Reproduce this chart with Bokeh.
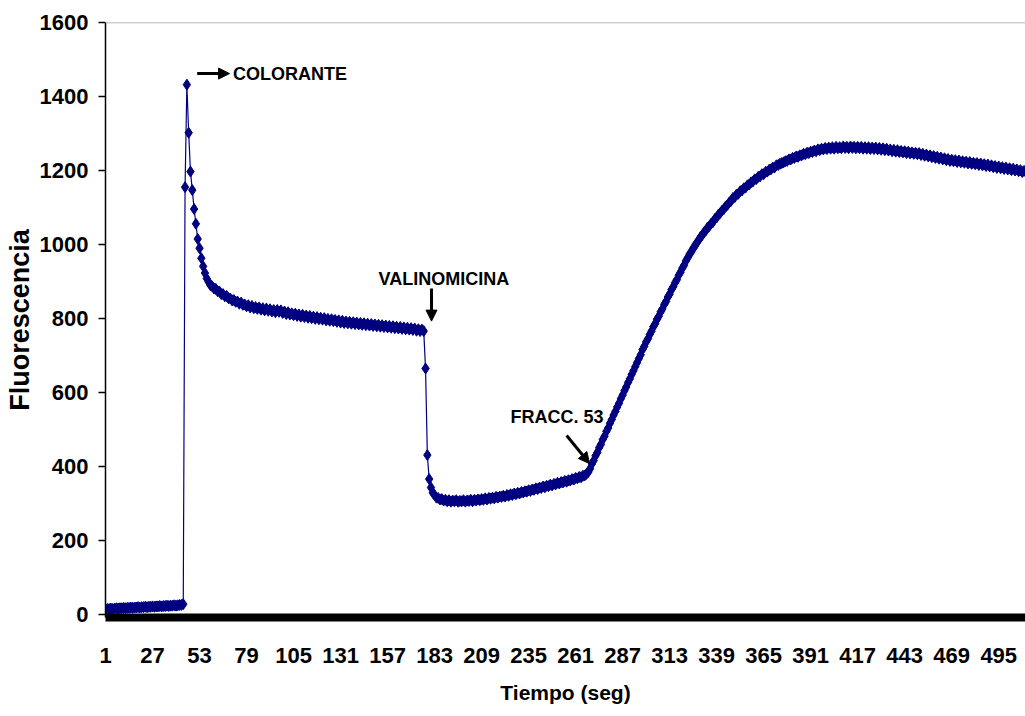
from bokeh.plotting import figure
from bokeh.models import Range1d, FixedTicker, Span, Arrow, NormalHead, Label
from bokeh.embed import file_html
from bokeh.resources import INLINE

# Fluorescence trace, one reading per second
baseline = [
    14, 15, 15, 16, 15, 16, 17, 16, 17, 17,
    18, 17, 18, 18, 19, 18, 19, 19, 20, 19,
    20, 20, 21, 20, 21, 21, 22, 21, 22, 22,
    23, 22, 23, 23, 24, 23, 24, 24, 25, 24,
    25, 26, 26, 28,
]
colorante = [
    1155, 1432, 1302, 1197, 1147, 1096, 1056, 1015, 990, 963,
    941, 923, 908, 899, 890, 887, 881, 880, 874, 873,
    866, 866, 860, 861, 855, 854, 849, 850, 845, 846,
    840, 843, 837, 838, 833, 836, 830, 834, 828, 831,
    826, 830, 824, 828, 822, 827, 821, 825, 819, 823,
    817, 823, 818, 822, 815, 819, 812, 817, 811, 814,
    809, 813, 807, 811, 805, 810, 804, 808, 802, 807,
    801, 805, 799, 804, 798, 802, 797, 801, 795, 799,
    794, 798, 793, 796, 791, 795, 789, 794, 788, 792,
    787, 791, 786, 790, 785, 789, 784, 788, 783, 787,
    782, 786, 781, 785, 780, 784, 779, 783, 778, 782,
    777, 781, 776, 780, 775, 779, 774, 778, 773, 777,
    772, 776, 771, 775, 770, 774, 769, 773, 767, 771,
    766, 770, 766,
]
valinomicina = [
    665, 431, 366, 343, 329, 323, 316, 315, 311, 312,
    308, 310, 306, 309, 305, 308, 306, 309, 305, 307,
    306, 309, 305, 308, 307, 310, 306, 310, 308, 311,
    309, 312, 310, 314, 311, 315, 313, 316, 314, 318,
    316, 319, 318, 321, 319, 323, 321, 325, 323, 327,
    325, 329, 327, 331, 330, 333, 332, 336, 334, 338,
    337, 341, 339, 343, 342, 346, 344, 348, 347, 351,
    349, 353, 352, 356, 354, 358, 357, 361, 359, 363,
    362, 366, 365, 369, 368, 372, 371, 375, 376, 380,
]
fraccion = [
    385, 394, 407, 416, 429, 438, 451, 460, 473, 482,
    495, 504, 517, 527, 539, 549, 561, 571, 583, 593,
    605, 615, 627, 637, 649, 659, 670, 681, 692, 702,
    716, 725, 737, 745, 757, 766, 778, 786, 798, 806,
    818, 826, 838, 846, 858, 866, 878, 886, 897, 905,
    917, 925, 936, 944, 956, 964, 974, 980, 990, 996,
    1005, 1011, 1020, 1025, 1033, 1038, 1046, 1050, 1057, 1061,
    1069, 1073, 1081, 1085, 1092, 1096, 1103, 1107, 1114, 1118,
    1126, 1128, 1135, 1137, 1144, 1146, 1152, 1154, 1160, 1162,
    1168, 1170, 1176, 1177, 1183, 1184, 1190, 1190, 1196, 1197,
    1202, 1203, 1208, 1208, 1214, 1215, 1218, 1220, 1222, 1225,
    1226, 1230, 1230, 1234, 1234, 1238, 1237, 1241, 1241, 1245,
    1244, 1248, 1247, 1251, 1250, 1254, 1252, 1257, 1255, 1259,
    1257, 1261, 1258, 1262, 1259, 1263, 1259, 1264, 1260, 1263,
    1260, 1265, 1261, 1264, 1260, 1265, 1261, 1264, 1260, 1264,
    1260, 1264, 1259, 1263, 1259, 1263, 1258, 1262, 1258, 1262,
    1257, 1261, 1256, 1260, 1255, 1259, 1254, 1257, 1252, 1256,
    1251, 1255, 1250, 1253, 1249, 1252, 1247, 1251, 1246, 1249,
    1245, 1248, 1244, 1247, 1242, 1245, 1240, 1243, 1238, 1241,
    1236, 1239, 1234, 1237, 1232, 1235, 1230, 1233, 1228, 1231,
    1226, 1229, 1225, 1228, 1223, 1227, 1222, 1225, 1221, 1224,
    1219, 1223, 1218, 1221, 1217, 1220, 1215, 1219, 1214, 1217,
    1212, 1216, 1211, 1214, 1209, 1212, 1207, 1211, 1206, 1209,
    1204, 1208, 1203, 1206, 1201, 1205, 1200, 1203, 1198, 1201,
    1196, 1199,
]

fluorescencia = baseline + colorante + valinomicina + fraccion
tiempo = list(range(1, len(fluorescencia) + 1))

x_ticks = list(range(1, 496, 26))
y_ticks = list(range(0, 1601, 200))

NAVY = "#000080"
FONT = "Liberation Sans"

p = figure(
    width=1025, height=716,
    x_range=Range1d(1, 509.8), y_range=Range1d(-8, 1600),
    output_backend="svg", toolbar_location=None,
    min_border_left=105, min_border_right=0,
    min_border_top=22, min_border_bottom=99,
)
p.background_fill_color = "white"
p.border_fill_color = "white"
p.outline_line_color = None
p.xgrid.visible = False
p.ygrid.visible = False

# plot-area top border
p.add_layout(Span(location=1600, dimension="width", line_color="#a0a0a0", line_width=1.5))

p.line(tiempo, fluorescencia, line_color=NAVY, line_width=1.2)
p.scatter(tiempo, fluorescencia, marker="diamond", size=11,
          fill_color=NAVY, line_color=NAVY)

# axes
xa = p.xaxis[0]
xa.ticker = FixedTicker(ticks=x_ticks)
xa.axis_line_width = 8
xa.axis_line_color = "black"
xa.major_tick_line_color = None
xa.minor_tick_line_color = None
xa.major_tick_out = 0
xa.major_tick_in = 0
xa.major_label_standoff = 30
xa.major_label_text_font = FONT
xa.major_label_text_font_style = "bold"
xa.major_label_text_font_size = "22px"
xa.major_label_text_color = "black"
xa.axis_label = "Tiempo (seg)"
xa.axis_label_text_font = FONT
xa.axis_label_text_font_style = "bold"
xa.axis_label_text_font_size = "21px"
xa.axis_label_text_color = "black"
xa.axis_label_standoff = 15

ya = p.yaxis[0]
ya.ticker = FixedTicker(ticks=y_ticks)
ya.axis_line_color = "black"
ya.axis_line_width = 1.5
ya.major_tick_line_color = "black"
ya.major_tick_line_width = 1.5
ya.major_tick_out = 7
ya.major_tick_in = 0
ya.minor_tick_line_color = None
ya.major_label_standoff = 10
ya.major_label_text_font = FONT
ya.major_label_text_font_style = "bold"
ya.major_label_text_font_size = "22px"
ya.major_label_text_color = "black"
ya.axis_label = "Fluorescencia"
ya.axis_label_text_font = FONT
ya.axis_label_text_font_style = "bold"
ya.axis_label_text_font_size = "27px"
ya.axis_label_text_color = "black"
ya.axis_label_standoff = 2

# annotations
def note(x, y, text):
    p.add_layout(Label(x=x, y=y, text=text, text_font=FONT, text_font_style="bold",
                       text_font_size="18px", text_color="black",
                       text_baseline="middle", text_align="left"))

def pointer(x0, y0, x1, y1):
    p.add_layout(Arrow(end=NormalHead(size=11, fill_color="black", line_color="black"),
                       x_start=x0, y_start=y0, x_end=x1, y_end=y1,
                       line_color="black", line_width=3))

note(71.5, 1460, "COLORANTE")
pointer(51.7, 1462, 69.6, 1462)

note(152, 908, "VALINOMICINA")
pointer(181.3, 881, 181.3, 793)

note(225, 535, "FRACC. 53")
pointer(256, 484, 268.7, 408)

open("out.html", "w").write(file_html(p, INLINE))
